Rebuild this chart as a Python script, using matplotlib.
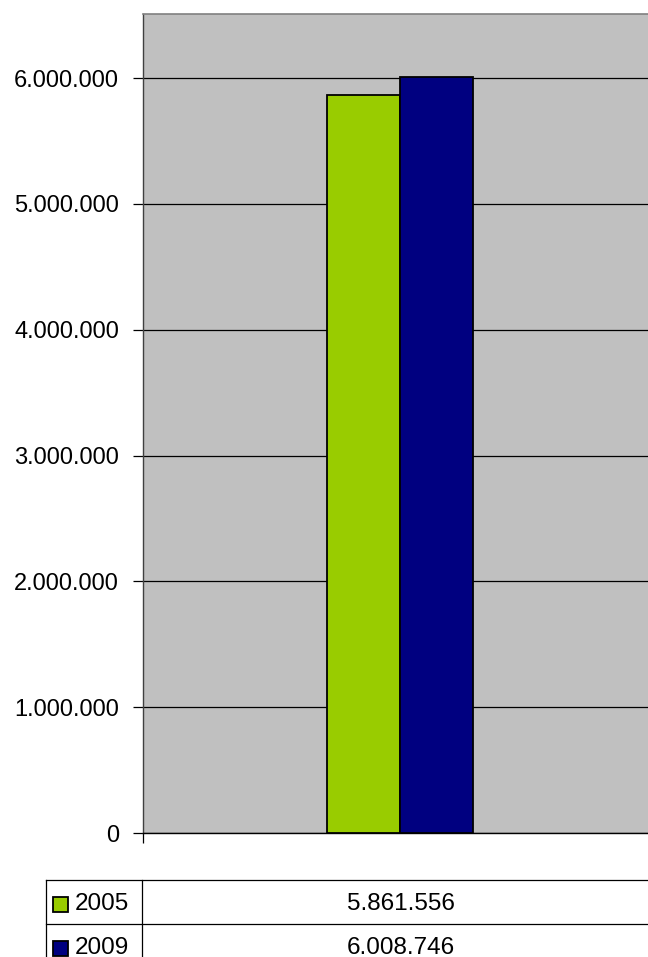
import matplotlib
matplotlib.use("Agg")
import matplotlib.pyplot as plt
from matplotlib.lines import Line2D
from matplotlib.patches import Rectangle

plt.rcParams['font.family'] = ['Liberation Sans', 'DejaVu Sans']

series = ["2005", "2009"]
values = [5861556, 6008746]
value_labels = ["5.861.556", "6.008.746"]
colors = ["#99CC00", "#000080"]
yticks = [0, 1000000, 2000000, 3000000, 4000000, 5000000, 6000000]
ytick_labels = ["0", "1.000.000", "2.000.000", "3.000.000", "4.000.000", "5.000.000", "6.000.000"]

W, H = 648, 957
fig = plt.figure(figsize=(W / 100, H / 100), dpi=100)

def fx(px):
    return px / W

def fy(py):
    return 1 - py / H

left, right, top, bottom = 143, 657, 14, 833
ax = fig.add_axes([fx(left), fy(bottom), fx(right - left), (bottom - top) / H])
ax.set_facecolor("#C0C0C0")
ax.set_xlim(-0.5, 0.5)
ax.set_ylim(0, 6509000)

bw = 73 / (right - left)
for i, (v, c) in enumerate(zip(values, colors)):
    ax.bar((i - 0.5) * bw, v, width=bw, color=c, edgecolor="black", linewidth=1.3, zorder=3, align="center")

ax.set_yticks(yticks)
ax.set_yticklabels(ytick_labels, fontsize=17)
ax.yaxis.grid(True, color="black", linewidth=0.9, zorder=1)
ax.set_axisbelow(True)
ax.tick_params(axis="y", direction="out", length=7.2, width=0.9, pad=10, colors="black")
ax.set_xticks([-0.5, 0.5])
ax.set_xticklabels([])
ax.tick_params(axis="x", direction="out", length=7, width=0.9)
ax.spines["right"].set_visible(False)
ax.spines["top"].set_color("#808080")
ax.spines["top"].set_linewidth(1.2)
ax.spines["left"].set_color("#404040")
ax.spines["left"].set_linewidth(1.0)
ax.spines["bottom"].set_color("black")
ax.spines["bottom"].set_linewidth(1.0)

# data table
tleft, tdiv, tright = 46, 142, 660
rows_y = [880, 924, 968]
lw = 0.9
fig.add_artist(Line2D([fx(tleft), fx(tright)], [fy(rows_y[0])] * 2, color="black", lw=lw))
fig.add_artist(Line2D([fx(tleft), fx(tright)], [fy(rows_y[1])] * 2, color="black", lw=lw))
fig.add_artist(Line2D([fx(tleft)] * 2, [fy(rows_y[0]), fy(rows_y[2])], color="black", lw=lw))
fig.add_artist(Line2D([fx(tdiv)] * 2, [fy(rows_y[0]), fy(rows_y[2])], color="black", lw=lw))

for i, (name, lab, c) in enumerate(zip(series, value_labels, colors)):
    yc = (rows_y[i] + rows_y[i + 1]) / 2 + 2
    fig.add_artist(Rectangle((fx(53), fy(yc + 8)), 15 / W, 15 / H, facecolor=c,
                             edgecolor="black", linewidth=1.3, transform=fig.transFigure))
    fig.text(fx(75), fy(yc), name, fontsize=17.5, va="center", ha="left")
    fig.text(fx(401), fy(yc), lab, fontsize=17.5, va="center", ha="center")

fig.savefig("out.png", dpi=100, facecolor="white")
